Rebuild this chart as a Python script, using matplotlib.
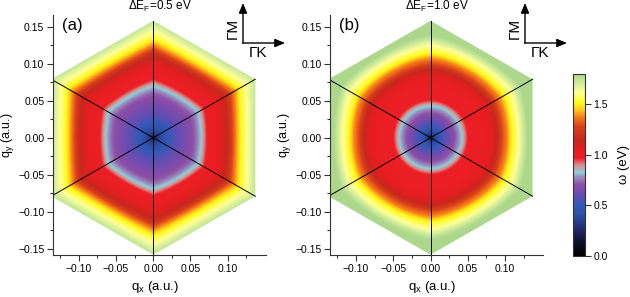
import numpy as np
import matplotlib
matplotlib.use("Agg")
import matplotlib.pyplot as plt
from matplotlib.colors import LinearSegmentedColormap
from matplotlib.patches import Polygon

plt.rcParams["font.family"] = ["Liberation Sans", "DejaVu Sans"]
plt.rcParams["mathtext.fontset"] = "custom"
plt.rcParams["mathtext.rm"] = "Liberation Sans"
plt.rcParams["mathtext.it"] = "Liberation Sans:italic"

# colour bar stops (eV -> rgb)
cb_vals = [0.0, 0.12, 0.25, 0.4, 0.5, 0.6, 0.7, 0.78, 0.83, 0.9, 0.97, 1.05,
           1.15, 1.28, 1.38, 1.45, 1.52, 1.62, 1.72, 1.8]
cb_cols = [(0, 0, 0), (0.05, 0.05, 0.15), (0.12, 0.15, 0.4), (0.18, 0.3, 0.65),
           (0.2, 0.35, 0.72), (0.4, 0.3, 0.7), (0.55, 0.3, 0.65), (0.6, 0.55, 0.75),
           (0.55, 0.82, 0.85), (0.85, 0.55, 0.55), (0.93, 0.12, 0.15), (0.9, 0.12, 0.12),
           (0.78, 0.15, 0.12), (0.85, 0.25, 0.1), (0.97, 0.5, 0.1), (1.0, 0.8, 0.1),
           (1.0, 0.98, 0.1), (1.0, 1.0, 0.6), (0.8, 0.92, 0.6), (0.68, 0.85, 0.55)]

# omega (eV) vs distance from Gamma along Gamma-K
d_knots_a = [0.0, 0.006, 0.015, 0.03, 0.045, 0.055, 0.064, 0.072, 0.085, 0.095,
             0.102, 0.109, 0.118, 0.127, 0.137]
omega_a = [0.2, 0.35, 0.45, 0.58, 0.66, 0.72, 0.83, 0.97, 1.02, 1.1,
           1.2, 1.35, 1.52, 1.63, 1.74]
d_knots_b = [0.0, 0.005, 0.012, 0.022, 0.032, 0.042, 0.05, 0.07, 0.085, 0.092,
             0.097, 0.104, 0.11, 0.12, 0.128, 0.137, 0.16]
omega_b = [0.15, 0.35, 0.47, 0.6, 0.7, 0.83, 0.97, 1.0, 1.08, 1.2,
           1.3, 1.4, 1.52, 1.64, 1.76, 1.9, 2.1]

# how hexagonal the contours are (scale, power) for each panel
hex_shape_a = (1.0, 0.6)
hex_shape_b = (0.6, 2.0)
hex_apothem = 0.137

titles = ["ΔE$_\\mathrm{F}$=0.5 eV", "ΔE$_\\mathrm{F}$=1.0 eV"]
tags = ["(a)", "(b)"]
x_ticks = [-0.10, -0.05, 0.00, 0.05, 0.10]
y_ticks = [-0.15, -0.10, -0.05, 0.00, 0.05, 0.10, 0.15]
cbar_ticks = [0.0, 0.5, 1.0, 1.5]

cmap = LinearSegmentedColormap.from_list(
    "wcm", [(v / cb_vals[-1], c) for v, c in zip(cb_vals, cb_cols)])


def omega_map(dk, om, shape):
    g = np.linspace(-0.16, 0.16, 481)
    X, Y = np.meshgrid(g, g)
    r = np.hypot(X, Y)
    s = np.sqrt(3) / 2
    h = np.max([np.abs(X), np.abs(0.5 * X + s * Y), np.abs(0.5 * X - s * Y)], axis=0)
    t = shape[0] * np.clip(h / hex_apothem, 0, 1) ** shape[1]
    D = (1 - t) * r + t * h
    return np.interp(D, dk, om)


R = hex_apothem / np.cos(np.pi / 6)
ang = np.deg2rad([90, 150, 210, 270, 330, 30])
verts = np.column_stack([R * np.cos(ang), R * np.sin(ang)])

fig = plt.figure(figsize=(6.3, 2.97), dpi=100)
lefts = [52.7, 330.0]
maps = [omega_map(d_knots_a, omega_a, hex_shape_a),
        omega_map(d_knots_b, omega_b, hex_shape_b)]
edge = "#333333"

for i in range(2):
    ax = fig.add_axes([lefts[i] / 630, 41.7 / 297, 213 / 630, 240.3 / 297])
    im = ax.imshow(maps[i], extent=[-0.16, 0.16, -0.16, 0.16], origin="lower",
                   cmap=cmap, vmin=0, vmax=1.8, interpolation="bilinear", aspect="auto")
    hexpatch = Polygon(verts, closed=True, transform=ax.transData)
    im.set_clip_path(hexpatch)
    for vx, vy in verts:
        ax.plot([0, vx], [0, vy], color="k", lw=0.7)
    ax.set_xlim(-0.135, 0.151)
    ax.set_ylim(-0.159, 0.166)
    for sp in ["top", "right"]:
        ax.spines[sp].set_visible(False)
    for sp in ["left", "bottom"]:
        ax.spines[sp].set_color(edge)
        ax.spines[sp].set_linewidth(0.8)
    ax.set_xticks(x_ticks)
    ax.set_yticks(y_ticks)
    ax.set_xticks(np.arange(-0.125, 0.14, 0.025), minor=True)
    ax.set_yticks(np.arange(-0.15, 0.16, 0.025), minor=True)
    ax.tick_params(which="major", direction="out", length=4, width=0.8, color=edge,
                   labelsize=7.5, pad=2)
    ax.tick_params(which="minor", direction="out", length=2.5, width=0.8, color=edge)
    ax.set_xlabel("q$_\\mathrm{x}$ (a.u.)", fontsize=9.5)
    ax.set_ylabel("q$_\\mathrm{y}$ (a.u.)", fontsize=9)
    ax.xaxis.set_label_coords(0.479, -0.10)
    ax.yaxis.set_label_coords(-0.172, 0.5)
    ax.text(0.503, 1.037, titles[i], transform=ax.transAxes, ha="center", va="center",
            fontsize=8.5)
    ax.text(0.044, 0.958, tags[i], transform=ax.transAxes, ha="left", va="center",
            fontsize=12)

    # Gamma-M / Gamma-K direction arrows
    cx = [243, 525][i]
    ax.annotate("", xy=(cx, 294), xytext=(cx, 254), xycoords="figure pixels",
                textcoords="figure pixels",
                arrowprops=dict(arrowstyle="-|>,head_length=0.6,head_width=0.25",
                                color="k", lw=1.0, shrinkA=0, shrinkB=0))
    ax.annotate("", xy=(cx + 42, 254), xytext=(cx - 0.5, 254), xycoords="figure pixels",
                textcoords="figure pixels",
                arrowprops=dict(arrowstyle="-|>,head_length=0.6,head_width=0.25",
                                color="k", lw=1.0, shrinkA=0, shrinkB=0))
    fig.text((cx - 10) / 630, 269 / 297, "ΓM", rotation=90, ha="center", va="center",
             fontsize=11)
    fig.text((cx + 15) / 630, 244 / 297, "ΓK", ha="center", va="center", fontsize=11)

cax = fig.add_axes([573 / 630, 41 / 297, 12 / 630, 182 / 297])
cb = fig.colorbar(im, cax=cax, ticks=cbar_ticks)
cb.outline.set_edgecolor(edge)
cb.outline.set_linewidth(0.8)
cb.ax.tick_params(direction="out", length=4, width=0.8, color=edge, labelsize=7.5, pad=2)
cb.set_label("ω (eV)", fontsize=9.5)
cb.ax.yaxis.set_label_coords(3.75, 0.5)

fig.savefig("out.png", dpi=100)
